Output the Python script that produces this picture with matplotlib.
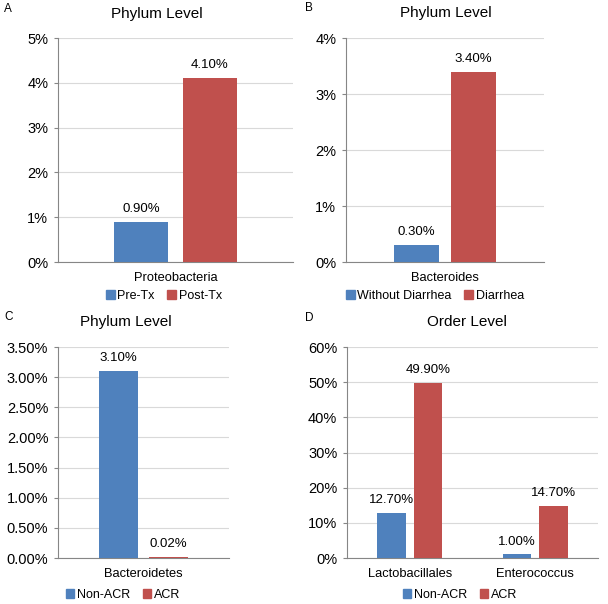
import matplotlib.pyplot as plt
from matplotlib.patches import Patch
from matplotlib.ticker import FuncFormatter

plt.rcParams['font.family'] = ['Liberation Sans', 'DejaVu Sans']

BLUE = '#4F81BD'
RED = '#C0504D'

# panel A
a_cats = ['Proteobacteria']
a_groups = ['Pre-Tx', 'Post-Tx']
a_vals = [[0.90], [4.10]]
a_ticks = [0, 1, 2, 3, 4, 5]

# panel B
b_cats = ['Bacteroides']
b_groups = ['Without Diarrhea', 'Diarrhea']
b_vals = [[0.30], [3.40]]
b_ticks = [0, 1, 2, 3, 4]

# panel C
c_cats = ['Bacteroidetes']
c_groups = ['Non-ACR', 'ACR']
c_vals = [[3.10], [0.02]]
c_ticks = [0, 0.5, 1.0, 1.5, 2.0, 2.5, 3.0, 3.5]

# panel D
d_cats = ['Lactobacillales', 'Enterococcus']
d_groups = ['Non-ACR', 'ACR']
d_vals = [[12.70, 1.00], [49.90, 14.70]]
d_ticks = [0, 10, 20, 30, 40, 50, 60]

W, H = 608, 604
fig = plt.figure(figsize=(W / 100, H / 100), dpi=100)


def px(x, y):
    return x / W, 1 - y / H


def panel(box, letter, letter_xy, title, title_xy, cats, groups, vals, ticks,
          tick_dec, legend_xy):
    x0, y0, x1, y1 = box
    ax = fig.add_axes([x0 / W, 1 - y1 / H, (x1 - x0) / W, (y1 - y0) / H])
    n = len(cats)
    width = 0.23
    offs = [-0.145, 0.145]
    colors = [BLUE, RED]
    for g in range(2):
        xs = [i + offs[g] for i in range(n)]
        bars = ax.bar(xs, vals[g], width, color=colors[g], zorder=3)
        for b, v in zip(bars, vals[g]):
            ax.annotate(f'{v:.2f}%', (b.get_x() + b.get_width() / 2, v),
                        xytext=(0, 5), textcoords='offset points',
                        ha='center', va='bottom', fontsize=9.5)
    ax.set_xlim(-0.5, n - 0.5)
    ax.set_ylim(ticks[0], ticks[-1])
    ax.set_yticks(ticks)
    ax.yaxis.set_major_formatter(FuncFormatter(lambda v, p: f'{v:.{tick_dec}f}%'))
    ax.set_xticks(range(n))
    ax.set_xticklabels(cats, fontsize=9.3)
    ax.tick_params(axis='x', length=0, pad=7)
    ax.tick_params(axis='y', length=3, color='#868686', labelsize=10.5, pad=4)
    ax.grid(axis='y', color='#D9D9D9', linewidth=0.8, zorder=0)
    for s in ['top', 'right']:
        ax.spines[s].set_visible(False)
    ax.spines['left'].set_color('#868686')
    ax.spines['bottom'].set_color('#868686')
    fig.text(*px(*title_xy), title, fontsize=11, ha='center', va='center')
    handles = [Patch(color=c, label=l) for c, l in zip(colors, groups)]
    fig.legend(handles=handles, loc='center', bbox_to_anchor=px(*legend_xy),
               ncol=2, frameon=False, fontsize=9, handlelength=0.7,
               handleheight=0.7, handletextpad=0.2, columnspacing=1.0,
               borderaxespad=0, borderpad=0)
    fig.text(*px(*letter_xy), letter, fontsize=8.5, va='center', ha='left')
    return ax


panel((58, 38, 293, 262), 'A', (4, 9), 'Phylum Level', (157, 14),
      a_cats, a_groups, a_vals, a_ticks, 0, (164, 296))
panel((346, 38, 544, 262), 'B', (305, 8), 'Phylum Level', (446, 13),
      b_cats, b_groups, b_vals, b_ticks, 0, (435, 296))
panel((58, 347, 229, 558), 'C', (4, 317), 'Phylum Level', (126, 322),
      c_cats, c_groups, c_vals, c_ticks, 2, (123, 595))
panel((347, 347, 598, 558), 'D', (305, 318), 'Order Level', (467, 322),
      d_cats, d_groups, d_vals, d_ticks, 0, (460, 595))

fig.savefig('out.png', dpi=100)
